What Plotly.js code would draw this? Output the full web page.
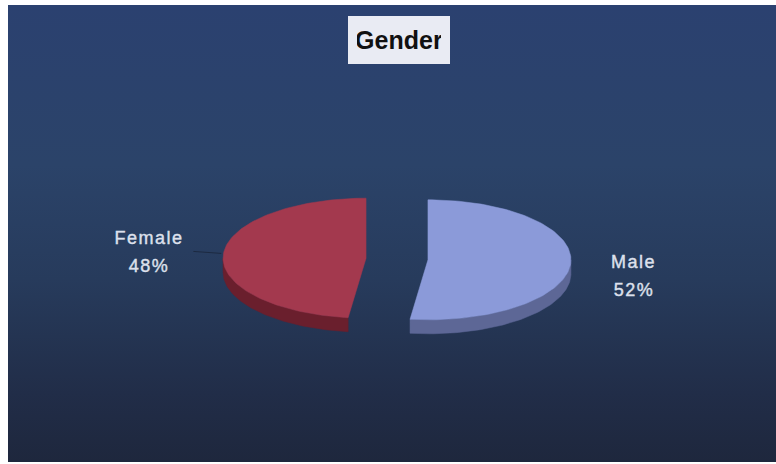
<!DOCTYPE html>
<html>
<head>
<meta charset="utf-8">
<script src="https://cdn.plot.ly/plotly-3.0.1.min.js"></script>
<style>
  html, body { margin: 0; padding: 0; background: #ffffff; }
  #wrap { position: relative; width: 776px; height: 464px; overflow: hidden; }
  #bg { position: absolute; left: 8px; top: 5px; width: 768px; height: 457px;
        background: linear-gradient(to bottom, #2b4170 0%, #2b4369 35%, #273b5c 60%, #212d48 85%, #1e273d 100%); }
  #chart { position: absolute; left: 0; top: 0; width: 776px; height: 464px; }
  .slice-label text { letter-spacing: 1.5px; stroke: #dde0ec; stroke-width: 0.4px; }
</style>
</head>
<body>
<div id="wrap"><div id="bg"></div><div id="chart"></div></div>
<script>
// ---- data ----
const categories = ['Male', 'Female'];
const values = [52, 48];
const titleText = 'Gender';

// ---- styles ----
const topColors  = ['#8b9ad9', '#a3394e'];
const sideColors = ['#5d6796', '#6a1f2d'];
const geom = { cx: 397, cy: 259, rx: 143, ry: 60, depth: 14, explode: 31 };
const labelShiftY = [12, -2];
const lineGap = 14;

const total = values.reduce((a, b) => a + b, 0);
const rad = d => d * Math.PI / 180;
function pt(cx, cy, th, dy) {
  return [cx + geom.rx * Math.sin(rad(th)), cy - geom.ry * Math.cos(rad(th)) + (dy || 0)];
}

const walls = [], tops = [], annotations = [], leaders = [];
const labelFont = { family: 'Liberation Sans, Arial, sans-serif', size: 18, color: '#dde0ec' };
let start = 0;
values.forEach((v, i) => {
  const sweep = v / total * 360;
  const a1 = start, a2 = start + sweep;
  const mid = (a1 + a2) / 2;
  const ox = Math.sin(rad(mid)) * geom.explode;
  const oy = -Math.cos(rad(mid)) * geom.explode * geom.ry / geom.rx;
  const cx = geom.cx + ox, cy = geom.cy + oy;

  // top face
  const tx = [cx], ty = [cy];
  for (let k = 0; k <= 120; k++) {
    const p = pt(cx, cy, a1 + sweep * k / 120);
    tx.push(p[0]); ty.push(p[1]);
  }
  tx.push(cx); ty.push(cy);
  tops.push({ type: 'scatter', mode: 'lines', x: tx, y: ty, fill: 'toself',
    fillcolor: topColors[i], line: { width: 0.5, color: topColors[i] },
    hoverinfo: 'text', text: categories[i] + ': ' + v + '%', showlegend: false });

  // visible outer wall (front half: 90..270 deg)
  const w1 = Math.max(a1, 90), w2 = Math.min(a2, 270);
  if (w2 > w1) {
    const wx = [], wy = [];
    for (let k = 0; k <= 80; k++) { const p = pt(cx, cy, w1 + (w2 - w1) * k / 80); wx.push(p[0]); wy.push(p[1]); }
    for (let k = 80; k >= 0; k--) { const p = pt(cx, cy, w1 + (w2 - w1) * k / 80, geom.depth); wx.push(p[0]); wy.push(p[1]); }
    wx.push(wx[0]); wy.push(wy[0]);
    walls.push({ type: 'scatter', mode: 'lines', x: wx, y: wy, fill: 'toself',
      fillcolor: sideColors[i], line: { width: 0.5, color: sideColors[i] },
      hoverinfo: 'skip', showlegend: false });
  }

  // label (two lines, centred on each other)
  const edge = pt(cx, cy, mid);
  const right = Math.sin(rad(mid)) > 0;
  const lx = edge[0] + (right ? 63 : -74);
  const ly = edge[1] + labelShiftY[i];
  [categories[i], v + '%'].forEach((t, j) => {
    annotations.push({ x: lx, y: ly + (j === 0 ? -lineGap : lineGap), xref: 'x', yref: 'y',
      text: t, showarrow: false, xanchor: 'center', yanchor: 'middle',
      font: labelFont, name: 'slice-label' });
  });
  if (!right) {
    leaders.push({ type: 'scatter', mode: 'lines', x: [lx + 44, edge[0] - 2], y: [edge[1] - 3, edge[1] - 1],
      line: { color: 'rgba(20,28,45,0.6)', width: 1 }, hoverinfo: 'skip', showlegend: false });
  }
  start = a2;
});

annotations.push({ x: 0.5, y: 40, xref: 'paper', yref: 'y', text: '<b>' + titleText + '</b>',
  showarrow: false, xanchor: 'center', yanchor: 'middle', xshift: 11,
  bgcolor: '#e9ebf3', borderpad: 9, borderwidth: 0,
  width: 84, height: 30,
  font: { family: 'Liberation Sans, Arial, sans-serif', size: 25, color: '#111111' } });

const layout = {
  width: 776, height: 464,
  margin: { l: 0, r: 0, t: 0, b: 0 },
  paper_bgcolor: 'rgba(0,0,0,0)', plot_bgcolor: 'rgba(0,0,0,0)',
  xaxis: { range: [0, 776], visible: false, fixedrange: true },
  yaxis: { range: [464, 0], visible: false, fixedrange: true },
  annotations: annotations,
  showlegend: false
};

Plotly.newPlot('chart', walls.concat(tops, leaders), layout, { displayModeBar: false, staticPlot: true })
  .then(() => {
    document.querySelectorAll('#chart .annotation').forEach((g, idx) => {
      if (idx < annotations.length - 1) g.classList.add('slice-label');
    });
  });
</script>
</body>
</html>
